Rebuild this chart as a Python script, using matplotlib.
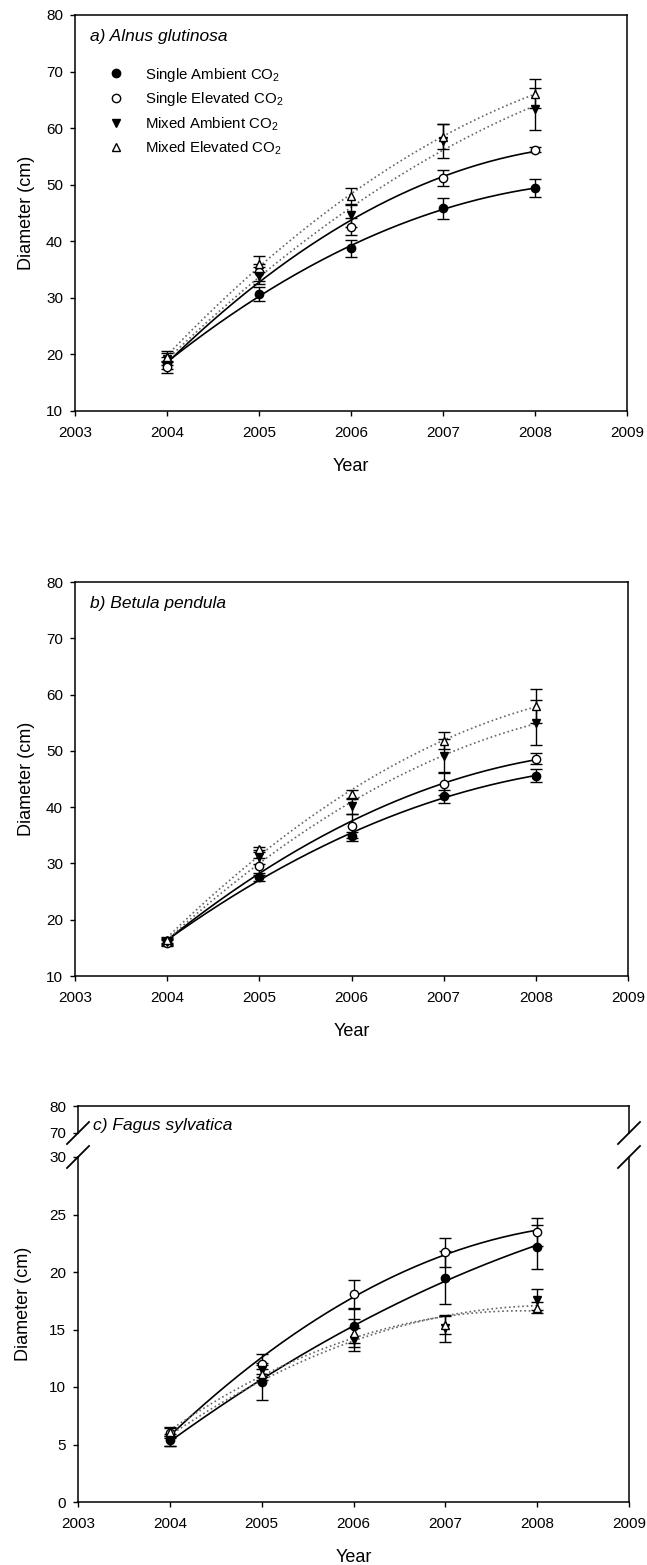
import numpy as np
import matplotlib
matplotlib.use("Agg")
from matplotlib import pyplot as plt

plt.rcParams['font.family'] = ['Liberation Sans', 'DejaVu Sans']
plt.rcParams['mathtext.fontset'] = 'custom'
plt.rcParams['mathtext.rm'] = 'Liberation Sans'
plt.rcParams['mathtext.it'] = 'Liberation Sans:italic'
plt.rcParams['mathtext.default'] = 'regular'

## data (means and error bars)

years = [2004, 2005, 2006, 2007, 2008]
treatments = ["Single Ambient CO$_2$", "Single Elevated CO$_2$",
              "Mixed Ambient CO$_2$", "Mixed Elevated CO$_2$"]

alnus_mean = [[18.5, 30.7, 38.8, 45.8, 49.4],
              [17.8, 34.5, 42.6, 51.2, 56.2],
              [19.2, 33.9, 44.6, 57.7, 63.4],
              [19.6, 36.0, 48.0, 58.5, 66.1]]
alnus_err  = [[1.0, 1.3, 1.5, 1.9, 1.6],
              [1.0, 1.5, 1.5, 1.4, 0.4],
              [1.0, 1.5, 2.0, 3.0, 3.7],
              [1.0, 1.4, 1.5, 2.2, 2.5]]

betula_mean = [[16.2, 27.6, 34.8, 41.9, 45.6],
               [15.9, 29.5, 36.6, 44.2, 48.6],
               [16.0, 31.1, 40.2, 49.1, 55.0],
               [16.4, 32.5, 42.3, 51.8, 58.0]]
betula_err  = [[0.5, 0.7, 0.8, 1.1, 1.2],
               [0.5, 1.5, 2.1, 2.0, 1.0],
               [0.5, 1.2, 1.5, 3.0, 4.0],
               [0.5, 0.5, 0.8, 1.5, 3.0]]

fagus_mean = [[5.4, 10.4, 15.3, 19.5, 22.2],
              [6.0, 12.0, 18.1, 21.7, 23.5],
              [5.3, 11.5, 14.1, 15.1, 17.6],
              [6.1, 11.1, 14.7, 15.4, 16.9]]
fagus_err  = [[0.5, 1.5, 1.5, 2.3, 1.9],
              [0.4, 0.9, 1.2, 1.3, 1.2],
              [0.4, 0.6, 1.0, 1.2, 0.9],
              [0.4, 0.5, 1.2, 0.8, 0.5]]

xticks = [2003, 2004, 2005, 2006, 2007, 2008, 2009]

## styles
markers = ['o', 'o', 'v', '^']
faces   = ['black', 'white', 'black', 'white']
fitls   = ['-', '-', ':', ':']
fitcol  = ['black', 'black', '0.4', '0.4']

W, H = 647, 1565
fig = plt.figure(figsize=(W/100, H/100), dpi=100)

def frac(left, top, right, bottom):
    return [left/W, 1 - bottom/H, (right - left)/W, (bottom - top)/H]

def style(ax):
    for s in ax.spines.values():
        s.set_linewidth(1.1)
    ax.tick_params(direction='out', length=3.6, width=1.0, labelsize=11, pad=5)
    ax.tick_params(axis='x', pad=7)
    ax.set_xlim(2003, 2009)
    ax.set_xticks(xticks)

def draw(ax, means, errs):
    xs = np.linspace(2004, 2008, 200)
    handles = []
    for i in range(4):
        c = np.polyfit(years, means[i], 2)
        ax.plot(xs, np.polyval(c, xs), ls=fitls[i], color=fitcol[i], lw=1.2, zorder=2)
    for i in range(4):
        ax.errorbar(years, means[i], yerr=errs[i], fmt='none', ecolor='black',
                    elinewidth=1.0, capsize=4, capthick=1.0, zorder=3)
        h, = ax.plot(years, means[i], ls='none', marker=markers[i], ms=6,
                     mfc=faces[i], mec='black', mew=1.0, zorder=4)
        handles.append(h)
    return handles

## panel a
ax1 = fig.add_axes(frac(75, 15, 627, 411))
style(ax1)
ax1.set_ylim(10, 80)
ax1.set_yticks(np.arange(10, 81, 10))
hs = draw(ax1, alnus_mean, alnus_err)
ax1.text(2003.16, 76.2, "a) Alnus glutinosa", style='italic', fontsize=12.5, va='center')
ax1.legend(hs, treatments, loc='upper left', bbox_to_anchor=(0.061, 0.872),
           frameon=False, fontsize=10.8, borderpad=0, handlelength=1.0,
           handletextpad=1.4, labelspacing=0.45, numpoints=1, borderaxespad=0)
ax1.set_xlabel("Year", fontsize=13, labelpad=13)
ax1.set_ylabel("Diameter (cm)", fontsize=13, labelpad=8)

## panel b
ax2 = fig.add_axes(frac(75, 582, 628, 976))
style(ax2)
ax2.set_ylim(10, 80)
ax2.set_yticks(np.arange(10, 81, 10))
draw(ax2, betula_mean, betula_err)
ax2.text(2003.16, 76.2, "b) Betula pendula", style='italic', fontsize=12.5, va='center')
ax2.set_xlabel("Year", fontsize=13, labelpad=13)
ax2.set_ylabel("Diameter (cm)", fontsize=13, labelpad=8)

## panel c, broken y axis
ax3u = fig.add_axes(frac(78, 1106, 629, 1133))
ax3 = fig.add_axes(frac(78, 1157, 629, 1502))
style(ax3u)
style(ax3)
ax3u.set_ylim(70, 80)
ax3u.set_yticks([70, 80])
ax3u.set_xticks([])
ax3u.spines['bottom'].set_visible(False)
ax3.spines['top'].set_visible(False)
ax3.set_ylim(0, 30)
ax3.set_yticks(np.arange(0, 31, 5))
draw(ax3, fagus_mean, fagus_err)
ax3u.text(2003.16, 72.6, "c) Fagus sylvatica", style='italic', fontsize=12.5, va='center')
ax3.set_xlabel("Year", fontsize=13, labelpad=13)
ax3.set_ylabel("Diameter (cm)", fontsize=13, labelpad=8)
ax3.yaxis.set_label_coords(-0.084, 0.574)

# break marks
for ax, yy in ((ax3u, 0.0), (ax3, 1.0)):
    for xx in (0.0, 1.0):
        dx = 11 / (ax.bbox.width)
        dy = 11 / (ax.bbox.height)
        ax.plot([xx - dx, xx + dx], [yy - dy, yy + dy], transform=ax.transAxes,
                color='black', lw=1.3, clip_on=False, zorder=5)

fig.savefig("out.png", dpi=100)
